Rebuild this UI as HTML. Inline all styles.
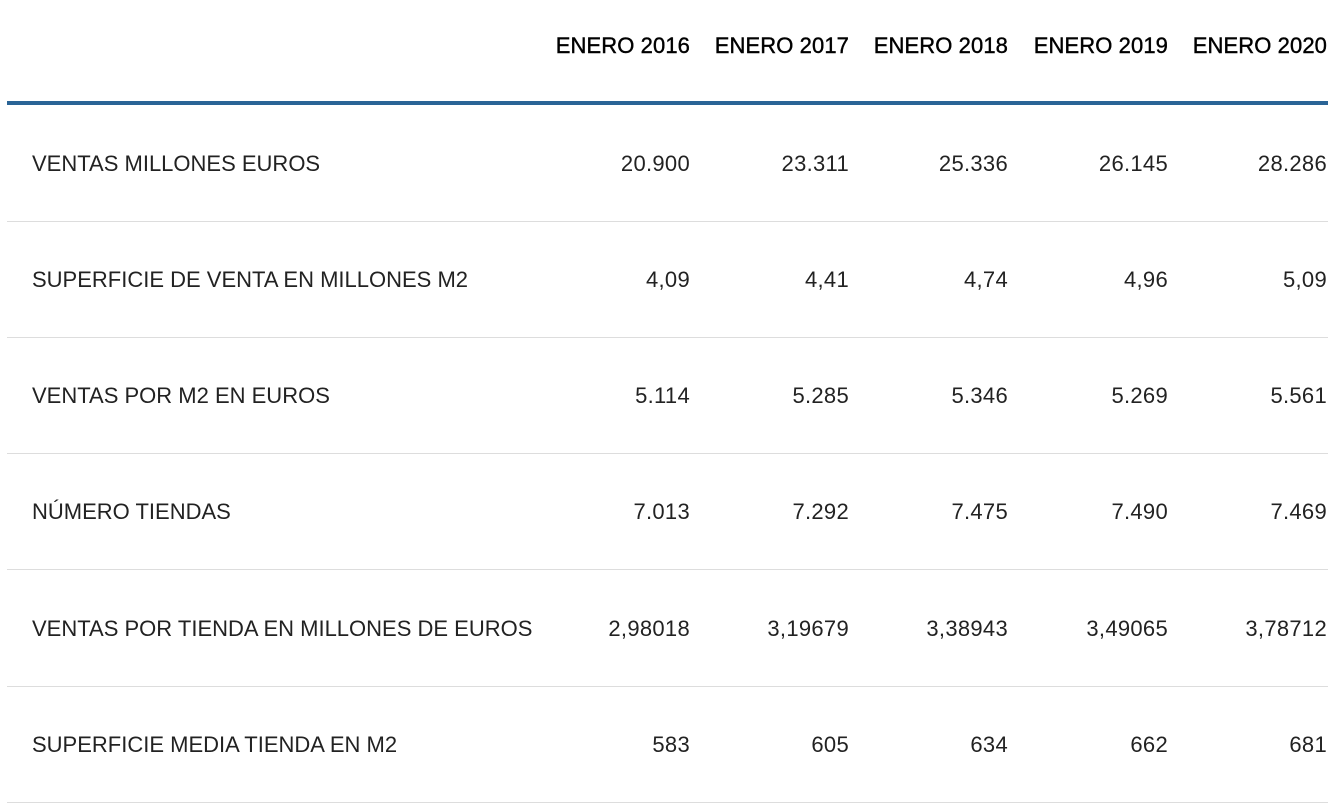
<!DOCTYPE html>
<html><head><meta charset="utf-8"><style>
body{margin:0;width:1344px;height:808px;background:#fff;position:relative;font-family:"Liberation Sans",sans-serif;color:#222;overflow:hidden}
.t{position:absolute;font-size:22px;line-height:26px;white-space:nowrap}
.h{font-weight:normal;color:#000;letter-spacing:0.1px;-webkit-text-stroke:0.4px #000}
.r{text-align:right;width:160px}
.n{letter-spacing:0.3px}
.line{position:absolute;left:7px;width:1321px;height:1px;background:#ddd}
</style></head><body>
<div style="position:absolute;left:7px;top:101px;width:1321px;height:4px;background:#2a6496"></div>
<div class="line" style="top:221px"></div>
<div class="line" style="top:337px"></div>
<div class="line" style="top:453px"></div>
<div class="line" style="top:569px"></div>
<div class="line" style="top:686px"></div>
<div class="line" style="top:802px"></div>

<div class="t h r" style="left:530px;top:33px">ENERO 2016</div>
<div class="t h r" style="left:689px;top:33px">ENERO 2017</div>
<div class="t h r" style="left:848px;top:33px">ENERO 2018</div>
<div class="t h r" style="left:1008px;top:33px">ENERO 2019</div>
<div class="t h r" style="left:1167px;top:33px">ENERO 2020</div>

<div class="t" style="left:32px;top:151px">VENTAS MILLONES EUROS</div>
<div class="t r n" style="left:530px;top:151px">20.900</div>
<div class="t r n" style="left:689px;top:151px">23.311</div>
<div class="t r n" style="left:848px;top:151px">25.336</div>
<div class="t r n" style="left:1008px;top:151px">26.145</div>
<div class="t r n" style="left:1167px;top:151px">28.286</div>

<div class="t" style="left:32px;top:267px">SUPERFICIE DE VENTA EN MILLONES M2</div>
<div class="t r n" style="left:530px;top:267px">4,09</div>
<div class="t r n" style="left:689px;top:267px">4,41</div>
<div class="t r n" style="left:848px;top:267px">4,74</div>
<div class="t r n" style="left:1008px;top:267px">4,96</div>
<div class="t r n" style="left:1167px;top:267px">5,09</div>

<div class="t" style="left:32px;top:383px">VENTAS POR M2 EN EUROS</div>
<div class="t r n" style="left:530px;top:383px">5.114</div>
<div class="t r n" style="left:689px;top:383px">5.285</div>
<div class="t r n" style="left:848px;top:383px">5.346</div>
<div class="t r n" style="left:1008px;top:383px">5.269</div>
<div class="t r n" style="left:1167px;top:383px">5.561</div>

<div class="t" style="left:32px;top:499px">NÚMERO TIENDAS</div>
<div class="t r n" style="left:530px;top:499px">7.013</div>
<div class="t r n" style="left:689px;top:499px">7.292</div>
<div class="t r n" style="left:848px;top:499px">7.475</div>
<div class="t r n" style="left:1008px;top:499px">7.490</div>
<div class="t r n" style="left:1167px;top:499px">7.469</div>

<div class="t" style="left:32px;top:616px">VENTAS POR TIENDA EN MILLONES DE EUROS</div>
<div class="t r n" style="left:530px;top:616px">2,98018</div>
<div class="t r n" style="left:689px;top:616px">3,19679</div>
<div class="t r n" style="left:848px;top:616px">3,38943</div>
<div class="t r n" style="left:1008px;top:616px">3,49065</div>
<div class="t r n" style="left:1167px;top:616px">3,78712</div>

<div class="t" style="left:32px;top:732px">SUPERFICIE MEDIA TIENDA EN M2</div>
<div class="t r n" style="left:530px;top:732px">583</div>
<div class="t r n" style="left:689px;top:732px">605</div>
<div class="t r n" style="left:848px;top:732px">634</div>
<div class="t r n" style="left:1008px;top:732px">662</div>
<div class="t r n" style="left:1167px;top:732px">681</div>
</body></html>
